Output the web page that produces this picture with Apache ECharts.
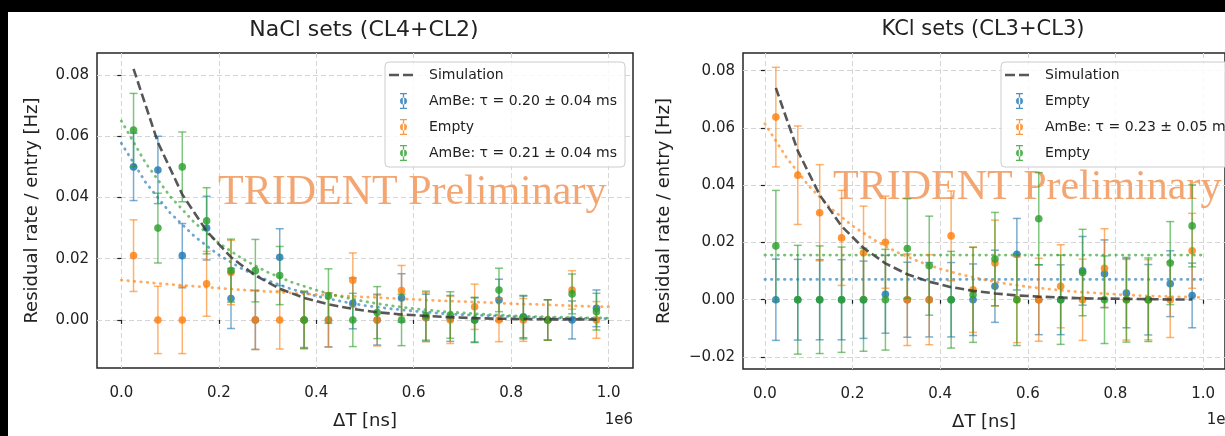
<!DOCTYPE html>
<html lang="en">
<head>
    <meta charset="UTF-8">
    <title>Residual rate</title>
    <script src="https://cdn.jsdelivr.net/npm/echarts@6.0.0/dist/echarts.min.js"></script>
    <style>
        body { margin: 0; background: #fff; }
        #main { width: 1225px; height: 436px; }
    </style>
</head>
<body>
<div id="main"></div>
<script type="text/javascript">
    // bin centres (units of 1e6 ns) and x of the fit curves
    var binCenters = [0.025, 0.075, 0.125, 0.175, 0.225, 0.275, 0.325, 0.375, 0.425, 0.475,
                      0.525, 0.575, 0.625, 0.675, 0.725, 0.775, 0.825, 0.875, 0.925, 0.975];
    var fitX = [0, 0.05, 0.1, 0.15, 0.2, 0.25, 0.3, 0.35, 0.4, 0.45, 0.5,
                0.55, 0.6, 0.65, 0.7, 0.75, 0.8, 0.85, 0.9, 0.95, 1.0];
    var xTicks = [0, 0.2, 0.4, 0.6, 0.8, 1.0];
    var naclYTicks = [0, 0.02, 0.04, 0.06, 0.08];
    var kclYTicks = [-0.02, 0, 0.02, 0.04, 0.06, 0.08];

    // NaCl sets (CL4+CL2)
    var naclSim = [0.0820, 0.0580, 0.0410, 0.0290, 0.0205, 0.0145, 0.0102, 0.0072, 0.0051, 0.0036,
                   0.0025, 0.0018, 0.0013, 0.0009, 0.0006, 0.0004, 0.0003, 0.0002, 0.0002, 0.0001];
    var naclBlueY = [0.050, 0.049, 0.021, 0.030, 0.007, 0, 0.0205, 0, 0, 0.0054,
                     0, 0.0072, 0.0007, 0.0005, 0, 0.0065, 0.001, 0, 0, 0.0038];
    var naclBlueErr = [0.011, 0.011, 0.0105, 0.0104, 0.0098, 0.0096, 0.0093, 0.009, 0.0088, 0.0083,
                       0.0082, 0.0079, 0.0077, 0.0075, 0.0072, 0.0068, 0.0068, 0.0066, 0.0062, 0.006];
    var naclOrangeY = [0.021, 0, 0, 0.0118, 0.0155, 0, 0, 0, 0, 0.013,
                       0, 0.0096, 0.0009, 0, 0.0043, 0, 0, 0, 0.0098, 0];
    var naclOrangeErr = [0.0117, 0.011, 0.011, 0.0106, 0.0105, 0.0097, 0.0095, 0.0093, 0.0089, 0.0089,
                         0.0085, 0.0082, 0.008, 0.0077, 0.0074, 0.0071, 0.007, 0.0066, 0.0063, 0.006];
    var naclGreenY = [0.062, 0.030, 0.050, 0.0324, 0.0161, 0.0161, 0.0145, 0, 0.0078, 0,
                      0.0024, 0, 0.0014, 0.0016, 0, 0.0098, 0.0009, 0, 0.0085, 0.0027];
    var naclGreenErr = [0.012, 0.0114, 0.0114, 0.0108, 0.0103, 0.0102, 0.0095, 0.0094, 0.0089, 0.0087,
                        0.0085, 0.0084, 0.008, 0.0076, 0.0074, 0.0071, 0.0071, 0.0066, 0.0065, 0.006];
    var naclBlueFit = [0.0577, 0.0449, 0.0350, 0.0273, 0.0212, 0.0165, 0.0129, 0.0100, 0.0078, 0.0061, 0.0047,
                       0.0037, 0.0029, 0.0022, 0.0017, 0.0014, 0.0011, 0.0008, 0.0006, 0.0005, 0.0004];
    var naclOrangeFit = [0.0130, 0.0123, 0.0116, 0.0110, 0.0104, 0.0098, 0.0093, 0.0088, 0.0083, 0.0079, 0.0075,
                         0.0071, 0.0067, 0.0063, 0.0060, 0.0057, 0.0053, 0.0051, 0.0048, 0.0045, 0.0043];
    var naclGreenFit = [0.0650, 0.0512, 0.0404, 0.0318, 0.0251, 0.0198, 0.0156, 0.0123, 0.0097, 0.0076, 0.0060,
                        0.0047, 0.0037, 0.0029, 0.0023, 0.0018, 0.0014, 0.0011, 0.0009, 0.0007, 0.0006];

    // KCl sets (CL3+CL3)
    var kclSim = [0.0740, 0.0520, 0.0366, 0.0257, 0.0181, 0.0127, 0.0089, 0.0063, 0.0044, 0.0031,
                  0.0022, 0.0015, 0.0011, 0.0008, 0.0005, 0.0004, 0.0003, 0.0002, 0.0001, 0.0001];
    var kclBlueY = [0, 0, 0, 0, 0, 0.0019, 0, 0, 0, 0,
                    0.0047, 0.0159, 0, 0, 0.0101, 0.0091, 0.0023, 0, 0.0056, 0.0015];
    var kclBlueErr = [0.0142, 0.0141, 0.014, 0.014, 0.0135, 0.0136, 0.0131, 0.013, 0.013, 0.0125,
                      0.0126, 0.0125, 0.0122, 0.0122, 0.012, 0.0118, 0.0121, 0.0123, 0.0115, 0.0113];
    var kclOrangeY = [0.0638, 0.0435, 0.0304, 0.0216, 0.0164, 0.0201, 0, 0, 0.0223, 0.0035,
                      0.0128, 0, 0, 0.0047, 0, 0.011, 0, 0, 0, 0.0171];
    var kclOrangeErr = [0.0174, 0.0172, 0.0168, 0.0166, 0.0163, 0.0161, 0.016, 0.0157, 0.0157, 0.0149,
                        0.015, 0.015, 0.0145, 0.0145, 0.0142, 0.0138, 0.0141, 0.014, 0.0132, 0.0131];
    var kclGreenY = [0.0188, 0, 0, 0, 0, 0, 0.0179, 0.0119, 0, 0.0017,
                     0.0142, 0, 0.0283, 0, 0.0095, 0, 0, 0, 0.0128, 0.0258];
    var kclGreenErr = [0.0194, 0.019, 0.0188, 0.0184, 0.018, 0.0176, 0.0174, 0.0173, 0.0169, 0.0166,
                       0.0163, 0.016, 0.0161, 0.0156, 0.0151, 0.0153, 0.0148, 0.0146, 0.0145, 0.0143];
    var kclBlueFit = [0.0071, 0.0071, 0.0071, 0.0071, 0.0071, 0.0071, 0.0071, 0.0071, 0.0071, 0.0071, 0.0071,
                      0.0071, 0.0071, 0.0071, 0.0071, 0.0071, 0.0071, 0.0071, 0.0071, 0.0071, 0.0071];
    var kclOrangeFit = [0.0615, 0.0495, 0.0398, 0.0320, 0.0258, 0.0208, 0.0167, 0.0134, 0.0108, 0.0087, 0.0070,
                        0.0056, 0.0045, 0.0037, 0.0029, 0.0024, 0.0019, 0.0015, 0.0012, 0.0010, 0.0008];
    var kclGreenFit = [0.0156, 0.0156, 0.0156, 0.0156, 0.0156, 0.0156, 0.0156, 0.0156, 0.0156, 0.0156, 0.0156,
                       0.0156, 0.0156, 0.0156, 0.0156, 0.0156, 0.0156, 0.0156, 0.0156, 0.0156, 0.0156];

    var labels = {
        nSim: 'Simulation', nBlue: 'AmBe: τ = 0.20 ± 0.04 ms', nOrange: 'Empty', nGreen: 'AmBe: τ = 0.21 ± 0.04 ms',
        kSim: 'Simulation', kBlue: 'Empty', kOrange: 'AmBe: τ = 0.23 ± 0.05 ms', kGreen: 'Empty'
    };

    var BLUE = '#1f77b4', ORANGE = '#ff7f0e', GREEN = '#2ca02c';
    var FONT = "'DejaVu Sans', sans-serif";

    function pairs(xs, ys) {
        return ys.map(function (y, i) { return [xs[i], y]; });
    }
    function triples(ys, errs) {
        return ys.map(function (y, i) { return [binCenters[i], y, errs[i]]; });
    }

    function errorBarItem(params, api) {
        var x = api.value(0), y = api.value(1), e = api.value(2);
        var c = api.coord([x, y]);
        var hi = api.coord([x, y + e]);
        var lo = api.coord([x, y - e]);
        var color = api.visual('color');
        var hw = 4;
        var lineStyle = { stroke: color, lineWidth: 1.5, opacity: 0.6 };
        return {
            type: 'group',
            children: [
                { type: 'line', shape: { x1: c[0], y1: hi[1], x2: c[0], y2: lo[1] }, style: lineStyle },
                { type: 'line', shape: { x1: c[0] - hw, y1: hi[1], x2: c[0] + hw, y2: hi[1] }, style: lineStyle },
                { type: 'line', shape: { x1: c[0] - hw, y1: lo[1], x2: c[0] + hw, y2: lo[1] }, style: lineStyle },
                { type: 'circle', shape: { cx: c[0], cy: c[1], r: 3.8 }, style: { fill: color, opacity: 0.82 } }
            ]
        };
    }

    function errSeries(name, idx, color, ys, errs) {
        return {
            name: name, type: 'custom', xAxisIndex: idx, yAxisIndex: idx,
            itemStyle: { color: color }, renderItem: errorBarItem,
            data: triples(ys, errs), z: 4, silent: true
        };
    }
    function fitSeries(name, idx, color, ys) {
        return {
            name: name, type: 'line', xAxisIndex: idx, yAxisIndex: idx, showSymbol: false,
            lineStyle: { color: color, width: 2.8, type: [0.5, 6], cap: 'round', opacity: 0.65 },
            data: pairs(fitX, ys), z: 3, silent: true
        };
    }
    function simSeries(name, idx, ys) {
        return {
            name: name, type: 'line', xAxisIndex: idx, yAxisIndex: idx, showSymbol: false,
            lineStyle: { color: '#3a3a3a', width: 2.6, type: [9, 4], opacity: 0.85 },
            data: pairs(binCenters, ys), z: 5, silent: true
        };
    }

    var errIcon = 'path://M0,0M35,16M11,0h7v1.3h-7zM13.85,0h1.3v16h-1.3zM11,14.7h7v1.3h-7zM11,8a3.5,3.5 0 1,0 7,0a3.5,3.5 0 1,0 -7,0z';
    var dashIcon = 'path://M0,0M35,16M0,6.8h10v2.4h-10zM14,6.8h10v2.4h-10z';

    function legendFor(left, names, colors) {
        return {
            left: left, top: 62, orient: 'vertical',
            padding: [5, 8, 6, 4], itemGap: 10, itemWidth: 35, itemHeight: 16,
            backgroundColor: 'rgba(255,255,255,0.85)', borderColor: '#cccccc', borderWidth: 1, borderRadius: 4,
            textStyle: { fontFamily: FONT, fontSize: 14, color: '#222', lineHeight: 16 },
            formatter: function (n) { return labels[n]; },
            selectedMode: false,
            data: names.map(function (n, i) {
                return {
                    name: n, icon: i === 0 ? dashIcon : errIcon,
                    itemStyle: { color: colors[i], borderWidth: 0, opacity: i === 0 ? 0.85 : 0.8 }
                };
            })
        };
    }

    function xAxisFor(idx) {
        return {
            gridIndex: idx, type: 'value', min: -0.05, max: 1.05,
            name: 'ΔT [ns]', nameLocation: 'middle', nameGap: 44,
            nameTextStyle: { fontFamily: FONT, fontSize: 18, color: '#222' },
            axisLine: { show: false },
            axisTick: { show: true, inside: false, length: 4, customValues: xTicks, lineStyle: { color: '#222', width: 1.2 } },
            axisLabel: { customValues: xTicks, margin: 18, fontFamily: FONT, fontSize: 15, color: '#222',
                         formatter: function (v) { return v.toFixed(1); } },
            splitLine: { show: true, lineStyle: { color: '#d4d4d4', type: [5, 3], width: 1 } }
        };
    }
    function yAxisFor(idx, min, max, ticks, gap) {
        return {
            gridIndex: idx, type: 'value', min: min, max: max,
            name: 'Residual rate / entry [Hz]', nameLocation: 'middle', nameGap: gap,
            nameTextStyle: { fontFamily: FONT, fontSize: 18, color: '#222' },
            axisLine: { show: false },
            axisTick: { show: true, inside: false, length: 4, customValues: ticks, lineStyle: { color: '#222', width: 1.2 } },
            axisLabel: { customValues: ticks, margin: 8, fontFamily: FONT, fontSize: 15, color: '#222',
                         formatter: function (v) {
                             return v < 0 ? '\u2212' + Math.abs(v).toFixed(2) : v.toFixed(2);
                         } },
            splitLine: { show: true, lineStyle: { color: '#d4d4d4', type: [5, 3], width: 1 } }
        };
    }

    var myChart = echarts.init(document.getElementById('main'), null, { renderer: 'canvas' });

    var option = {
        animation: false,
        backgroundColor: '#ffffff',
        title: [
            { text: 'NaCl sets (CL4+CL2)', left: 364, top: 19, padding: 0, textAlign: 'center',
              textStyle: { fontFamily: FONT, fontSize: 22, fontWeight: 'normal', color: '#222' } },
            { text: 'KCl sets (CL3+CL3)', left: 983, top: 19, padding: 0, textAlign: 'center',
              textStyle: { fontFamily: FONT, fontSize: 21, fontWeight: 'normal', color: '#222' } }
        ],
        grid: [
            { left: 97, top: 53, width: 536, height: 315, show: true, backgroundColor: '#fff',
              borderColor: '#262626', borderWidth: 1.5 },
            { left: 743, top: 53, width: 492, height: 316, show: true, backgroundColor: '#fff',
              borderColor: '#262626', borderWidth: 1.5 }
        ],
        legend: [
            legendFor(385, ['nSim', 'nBlue', 'nOrange', 'nGreen'], ['#3a3a3a', BLUE, ORANGE, GREEN]),
            legendFor(1001, ['kSim', 'kBlue', 'kOrange', 'kGreen'], ['#3a3a3a', BLUE, ORANGE, GREEN])
        ],
        xAxis: [xAxisFor(0), xAxisFor(1)],
        yAxis: [
            yAxisFor(0, -0.0157, 0.0872, naclYTicks, 56),
            yAxisFor(1, -0.0242, 0.0862, kclYTicks, 70)
        ],
        graphic: [
            { type: 'rect', shape: { x: 0, y: 0, width: 1225, height: 12 }, style: { fill: '#000' }, z: 10 },
            { type: 'rect', shape: { x: 0, y: 0, width: 8, height: 436 }, style: { fill: '#000' }, z: 10 },
            { type: 'text', x: 218, y: 172, z: 1, silent: true,
              style: { text: 'TRIDENT Preliminary', font: "42px 'Liberation Serif', serif", fill: '#f3a672' } },
            { type: 'text', x: 833, y: 167, z: 1, silent: true,
              style: { text: 'TRIDENT Preliminary', font: "42px 'Liberation Serif', serif", fill: '#f3a672' } },
            { type: 'text', x: 633, y: 413, silent: true,
              style: { text: '1e6', font: "15px 'DejaVu Sans', sans-serif", fill: '#222', align: 'right' } },
            { type: 'text', x: 1235, y: 413, silent: true,
              style: { text: '1e6', font: "15px 'DejaVu Sans', sans-serif", fill: '#222', align: 'right' } }
        ],
        series: [
            fitSeries('nBlueFit', 0, BLUE, naclBlueFit),
            fitSeries('nOrangeFit', 0, ORANGE, naclOrangeFit),
            fitSeries('nGreenFit', 0, GREEN, naclGreenFit),
            errSeries('nBlue', 0, BLUE, naclBlueY, naclBlueErr),
            errSeries('nOrange', 0, ORANGE, naclOrangeY, naclOrangeErr),
            errSeries('nGreen', 0, GREEN, naclGreenY, naclGreenErr),
            simSeries('nSim', 0, naclSim),

            fitSeries('kBlueFit', 1, BLUE, kclBlueFit),
            fitSeries('kOrangeFit', 1, ORANGE, kclOrangeFit),
            fitSeries('kGreenFit', 1, GREEN, kclGreenFit),
            errSeries('kBlue', 1, BLUE, kclBlueY, kclBlueErr),
            errSeries('kOrange', 1, ORANGE, kclOrangeY, kclOrangeErr),
            errSeries('kGreen', 1, GREEN, kclGreenY, kclGreenErr),
            simSeries('kSim', 1, kclSim)
        ]
    };

    myChart.setOption(option);
</script>
</body>
</html>
